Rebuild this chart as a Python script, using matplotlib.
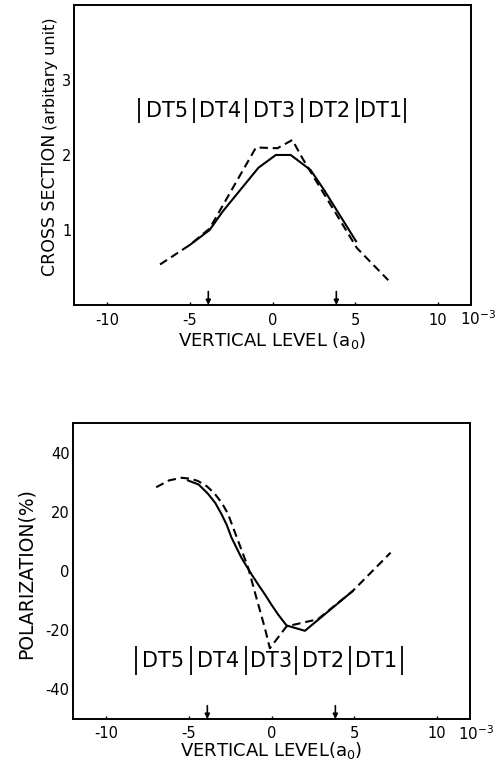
import matplotlib
matplotlib.use("Agg")
import matplotlib.pyplot as plt
import numpy as np

plt.rcParams['font.family'] = ['DejaVu Sans']
plt.rcParams['axes.unicode_minus'] = False
plt.rcParams['lines.scale_dashes'] = False

# ---------------- data ----------------
# Top panel: cross section (arbitrary unit)
cs_dash_x = [-6.8, -5.0, -3.8, -1.0, 0.3, 1.2, 1.8, 2.4, 5.1, 7.0]
cs_dash_y = [0.54, 0.80, 1.02, 2.10, 2.09, 2.20, 1.96, 1.74, 0.76, 0.33]
cs_solid_x = [-5.0, -3.8, -3.0, -0.85, 0.2, 1.1, 2.3, 3.1, 5.05]
cs_solid_y = [0.80, 1.00, 1.25, 1.83, 2.00, 2.00, 1.80, 1.54, 0.85]

# Bottom panel: polarization (%)
pol_dash_x = [-6.97, -6.2, -5.45, -4.9, -4.44, -3.9, -3.43, -3.0, -2.63, -2.02, -1.41,
              -0.91, -0.4, -0.1, 0.91, 2.8, 4.9, 7.2]
pol_dash_y = [28.3, 30.6, 31.5, 31.2, 30.4, 28.6, 26.1, 23.0, 19.3, 10.2, 1.1,
              -9.1, -19.3, -26.1, -18.7, -16.3, -6.8, 6.2]
pol_solid_x = [-5.05, -4.4, -3.84, -3.4, -3.03, -2.7, -2.42, -1.82, -1.21, -0.8, -0.4,
               0.0, 0.4, 0.91, 2.02, 4.9]
pol_solid_y = [30.6, 29.2, 26.1, 23.0, 19.3, 15.5, 11.3, 4.5, -1.1, -4.6, -7.9,
               -11.4, -14.7, -18.4, -20.2, -6.8]

x_ticks = [-10, -5, 0, 5, 10]
cs_yticks = [1, 2, 3]
pol_yticks = [-40, -20, 0, 20, 40]

dt_labels = ["DT5", "DT4", "DT3", "DT2", "DT1"]
dt_bounds_top = [-8.05, -4.74, -1.6, 1.77, 5.12, 8.0]
dt_bounds_bot = [-8.18, -4.89, -1.56, 1.47, 4.75, 7.88]
arrow_x = [-3.88, 3.86]

# ---------------- figure ----------------
fig = plt.figure(figsize=(5.0, 7.64), dpi=100)
ax1 = fig.add_axes([0.148, 0.6008, 0.794, 0.3927])
ax2 = fig.add_axes([0.146, 0.0589, 0.794, 0.3874])

lw = 1.5
dash = (6, 3.5)

def style(ax, ylim, yticks, xpad, ypad):
    ax.set_xlim(-12, 12)
    ax.set_ylim(*ylim)
    ax.set_xticks(x_ticks)
    ax.set_yticks(yticks)
    ax.tick_params(axis='x', direction='in', length=2, width=1, pad=xpad, labelsize=10.5)
    ax.tick_params(axis='y', direction='in', length=0, pad=ypad, labelsize=10.5)
    for s in ax.spines.values():
        s.set_linewidth(1.4)

style(ax1, (0, 4), cs_yticks, 6, 2)
style(ax2, (-50, 50), pol_yticks, 5, 2.5)

ax1.plot(cs_dash_x, cs_dash_y, color='k', lw=lw, dashes=dash)
ax1.plot(cs_solid_x, cs_solid_y, color='k', lw=lw)
ax2.plot(pol_dash_x, pol_dash_y, color='k', lw=lw, dashes=dash)
ax2.plot(pol_solid_x, pol_solid_y, color='k', lw=lw)

def dt_row(ax, bounds, ymin, ymax, yc):
    ax.vlines(bounds, ymin, ymax, color='k', lw=1.3)
    for i, lab in enumerate(dt_labels):
        ax.text((bounds[i] + bounds[i + 1]) / 2, yc, lab, ha='center', va='center',
                fontsize=15)

dt_row(ax1, dt_bounds_top, 2.43, 2.76, 2.59)
dt_row(ax2, dt_bounds_bot, -35.1, -25.5, -30.3)

for ax in (ax1, ax2):
    for xa in arrow_x:
        ax.annotate('', xy=(xa, 0.0), xycoords=('data', 'axes fraction'),
                    xytext=(xa, 0.045), textcoords=('data', 'axes fraction'),
                    arrowprops=dict(arrowstyle='-|>', color='k', lw=1.2,
                                    mutation_scale=7, shrinkA=0, shrinkB=0))

# x labels and 10^-3
ax1.text(0.499, -0.136, "VERTICAL LEVEL (a$_0$)", transform=ax1.transAxes,
         ha='center', va='baseline', fontsize=13)
ax2.text(0.5, -0.125, "VERTICAL LEVEL(a$_0$)", transform=ax2.transAxes,
         ha='center', va='baseline', fontsize=13)
ax1.text(0.972, -0.067, r"$10^{-3}$", transform=ax1.transAxes,
         ha='left', va='baseline', fontsize=11)
ax2.text(0.970, -0.071, r"$10^{-3}$", transform=ax2.transAxes,
         ha='left', va='baseline', fontsize=11)

# y labels
fig.text(55 / 500, 1 - 276 / 764, "CROSS SECTION", rotation=90, rotation_mode='anchor',
         ha='left', va='baseline', fontsize=12.5)
fig.text(55 / 500, 1 - 130 / 764, "(arbitary unit)", rotation=90, rotation_mode='anchor',
         ha='left', va='baseline', fontsize=11.5)
fig.text(32 / 500, 1 - 574 / 764, "POLARIZATION(%)", rotation=90, rotation_mode='anchor',
         ha='center', va='baseline', fontsize=13.5)

fig.savefig("out.png", dpi=100)
